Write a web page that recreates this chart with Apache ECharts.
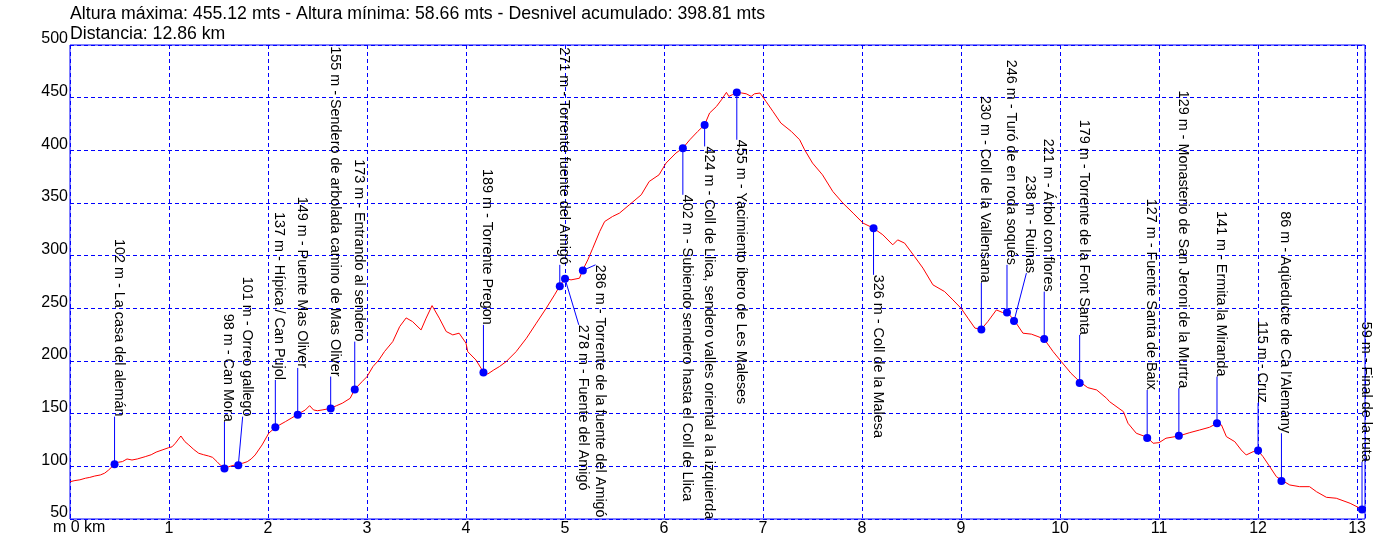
<!DOCTYPE html>
<html>
<head>
<meta charset="utf-8">
<script src="https://cdn.jsdelivr.net/npm/echarts@6/dist/echarts.min.js"></script>
<style>
html,body{margin:0;padding:0;background:#fff;}
#chart{width:1400px;height:546px;}
</style>
</head>
<body>
<div id="chart"></div>
<script>
var titleLines = [
  "Altura máxima: 455.12 mts - Altura mínima: 58.66 mts - Desnivel acumulado: 398.81 mts",
  "Distancia: 12.86 km"
];

var profileKm = [0.00,0.05,0.10,0.155,0.20,0.25,0.306,0.35,0.39,0.45,0.49,0.53,0.576,0.626,0.68,0.76,0.82,0.87,0.93,0.996,1.03,1.064,1.12,1.16,1.2,1.25,1.3,1.35,1.40,1.44,1.485,1.52,1.56,1.60,1.637,1.70,1.745,1.79,1.83,1.87,1.94,2.007,2.074,2.12,2.175,2.24,2.30,2.377,2.42,2.46,2.50,2.546,2.633,2.69,2.75,2.83,2.876,2.95,3.0,3.06,3.12,3.176,3.26,3.33,3.395,3.46,3.546,3.597,3.657,3.73,3.80,3.866,3.93,4.0,4.017,4.10,4.176,4.22,4.28,4.337,4.405,4.506,4.61,4.71,4.81,4.894,4.947,5.0,5.06,5.146,5.18,5.23,5.28,5.35,5.40,5.48,5.55,5.65,5.77,5.85,5.95,6.02,6.12,6.19,6.26,6.34,6.41,6.46,6.53,6.58,6.63,6.655,6.69,6.735,6.78,6.83,6.88,6.914,6.97,7.03,7.10,7.18,7.285,7.37,7.42,7.50,7.60,7.705,7.806,7.91,8.01,8.116,8.21,8.31,8.36,8.43,8.53,8.615,8.716,8.834,8.918,9.0,9.07,9.14,9.205,9.27,9.357,9.42,9.464,9.535,9.625,9.71,9.777,9.84,9.93,10.013,10.11,10.198,10.28,10.37,10.47,10.50,10.64,10.686,10.77,10.88,10.94,11.0,11.07,11.2,11.31,11.41,11.51,11.585,11.63,11.68,11.765,11.83,11.88,11.95,12.0,12.05,12.118,12.185,12.236,12.32,12.42,12.52,12.59,12.69,12.79,12.93,13.01,13.05];
var profileElev = [85.4,86.5,87.2,88.7,89.5,90.8,91.8,93.5,96.5,102,103.9,104.5,107,106,107,109.2,111,113.5,115.5,117.7,118.5,121.9,128.8,123.5,120.3,116,112.4,111,109.8,108.5,104.4,101,98.7,99.5,100.6,102,103,104.4,107,110.8,120.3,131.4,137,139.5,142.4,146,149.4,153.5,157.6,153.5,152.8,153.5,155,157.5,159.9,164.6,173.2,180.4,185.2,194.7,201,208.9,218.4,232.7,240.9,237.4,229.5,240.7,252.6,240.7,228,224.8,226.4,216.9,208.9,201,189.4,187.7,191.5,194.7,199.4,208.9,221.6,235.9,250.1,262.8,271.3,278.6,277,278.6,286.5,296,307.1,322.9,332.4,337.2,340.4,348.3,357.8,370.4,376.8,387.9,397.4,402.1,410,417.9,424.3,435.4,441.7,448,455,451.2,452.8,455.3,454.5,453.7,451.2,453.7,454.4,446.4,436.9,425.9,418,410,400.5,387.9,376.8,360.9,350,340.4,330.9,326.1,319.8,310.3,315,311.9,299.2,288.2,272.3,265.9,258,250.1,240.6,231.2,230.2,237.4,248.5,246,246.3,239,226.4,225.5,223.2,220.7,208.9,199.4,188.4,180.4,174.7,172.5,164.6,161.4,151.9,140.9,131.4,127.6,121.9,122.5,126.7,128.8,132,134.5,137.1,140.9,139.3,128.2,123.4,115.5,110.8,113.9,114.9,109.2,99.7,90.2,87,82.3,80.7,80.7,75.9,70.6,69.7,64.9,61.1,59.5];

var wpNames = [
  "102 m - La casa del alemán",
  "98 m - Can Mora",
  "101 m - Orreo gallego",
  "137 m - Hípica / Can Pujol",
  "149 m - Puente Mas Oliver",
  "155 m - Sendero de arbolada camino de Mas Oliver",
  "173 m - Entrando al sendero",
  "189 m - Torrente Pregon",
  "271 m - Torrente fuente del Amigó",
  "278 m - Fuente del Amigó",
  "286 m - Torrente de la fuente del Amigó",
  "402 m - Subiendo sendero hasta el Coll de Llica",
  "424 m - Coll de Llica, sendero valles oriental a la izquierda",
  "455 m - Yacimiento íbero de Les Maleses",
  "326 m - Coll de la Malesa",
  "230 m - Coll de la Vallensana",
  "246 m - Turó de en roda soqués",
  "238 m - Ruinas",
  "221 m - Árbol con flores",
  "179 m - Torrente de la Font Santa",
  "127 m - Fuente Santa de Baix",
  "129 m - Monasterio de San Jeroni de la Murtra",
  "141 m - Ermita la Miranda",
  "115 m - Cruz",
  "86 m - Aqüeducte de Ca l'Alemany",
  "59 m - Final de la ruta"
];
var wpKm   = [0.45,1.56,1.70,2.074,2.30,2.633,2.876,4.176,4.947,5.0,5.18,6.19,6.41,6.735,8.116,9.205,9.464,9.535,9.84,10.198,10.88,11.2,11.585,12.0,12.236,13.05];
var wpElev = [102,98,101,137,149,155,173,189,271,278,286,402,424,455,326,230,246,238,221,179,127,129,141,115,86,59];
var wpLabelKm   = [0.45,1.56,1.744,2.074,2.30,2.633,2.876,4.176,4.947,5.139,5.308,6.19,6.41,6.735,8.116,9.205,9.464,9.66,9.84,10.198,10.88,11.2,11.585,12.0,12.236,13.05];
var wpLabelElev = [147.2,142.4,147.2,182,193.4,185.2,218.4,234.3,291.3,234.3,291.3,357.8,403.7,410,281.8,274.2,291.3,283.4,265.9,224.8,172.5,174.2,185.2,160.2,131.4,104.4];
var wpLabelSide = ['up','up','up','up','up','up','up','up','up','down','down','down','down','down','down','up','up','up','up','up','up','up','up','up','up','up'];

var FONT = 'Liberation Sans, Arial, sans-serif';
var chart = echarts.init(document.getElementById('chart'), null, {renderer:'canvas'});

var profileData = profileKm.map(function(k,i){ return [k, profileElev[i]]; });
var wpData = wpKm.map(function(k,i){ return [k, wpElev[i], wpLabelKm[i], wpLabelElev[i]]; });

var option = {
  animation:false,
  backgroundColor:'#fff',
  title:{
    text: titleLines.join('\n'),
    left: 70, top: 4, padding:0,
    textStyle:{color:'#000', fontSize:17.7, fontWeight:'normal', fontFamily:FONT, lineHeight:20}
  },
  grid:{left:70, right:35, top:45, bottom:27, show:true, borderColor:'#0000ff', borderWidth:1, backgroundColor:'transparent'},
  xAxis:{
    type:'value', min:0, max:13.08, interval:1,
    axisLine:{show:false}, axisTick:{show:false},
    splitLine:{show:true, lineStyle:{color:'#0000ff', width:1, type:[4,3]}},
    axisLabel:{color:'#000', fontSize:16, fontFamily:FONT, margin:2,
      formatter:function(v){ return (v>0 && Math.abs(v-Math.round(v))<1e-6) ? String(Math.round(v)) : ''; }}
  },
  yAxis:{
    type:'value', min:50, max:500, interval:50,
    axisLine:{show:false}, axisTick:{show:false},
    splitLine:{show:true, lineStyle:{color:'#0000ff', width:1, type:[4,3]}},
    axisLabel:{color:'#000', fontSize:16, fontFamily:FONT, margin:2, verticalAlign:'bottom', lineHeight:12}
  },
  graphic:[
    {type:'text', x:53, y:528, style:{text:'m 0 km', fill:'#000', fontSize:16, fontFamily:FONT, verticalAlign:'middle'}}
  ],
  series:[
    {type:'line', data:profileData, symbol:'none', lineStyle:{color:'#ff0000', width:1}, z:2},
    {type:'custom', data:wpData, clip:false, z:3,
      encode:{x:[0,2], y:[1,3]},
      renderItem:function(params, api){
        var p = api.coord([api.value(0), api.value(1)]);
        var a = api.coord([api.value(2), api.value(3)]);
        var up = wpLabelSide[params.dataIndex] === 'up';
        return {type:'group', children:[
          {type:'line', shape:{x1:p[0], y1:p[1], x2:a[0], y2:a[1]}, style:{stroke:'#0000ff', lineWidth:1}},
          {type:'text', x:a[0]+4, y:a[1], rotation:-Math.PI/2,
            style:{text:wpNames[params.dataIndex], fill:'#000', fontSize:14.4, fontFamily:FONT,
                   align: up ? 'right' : 'left', verticalAlign:'middle'}},
          {type:'circle', shape:{cx:p[0], cy:p[1], r:4}, style:{fill:'#0000ff'}}
        ]};
      }
    }
  ]
};
chart.setOption(option);
</script>
</body>
</html>
